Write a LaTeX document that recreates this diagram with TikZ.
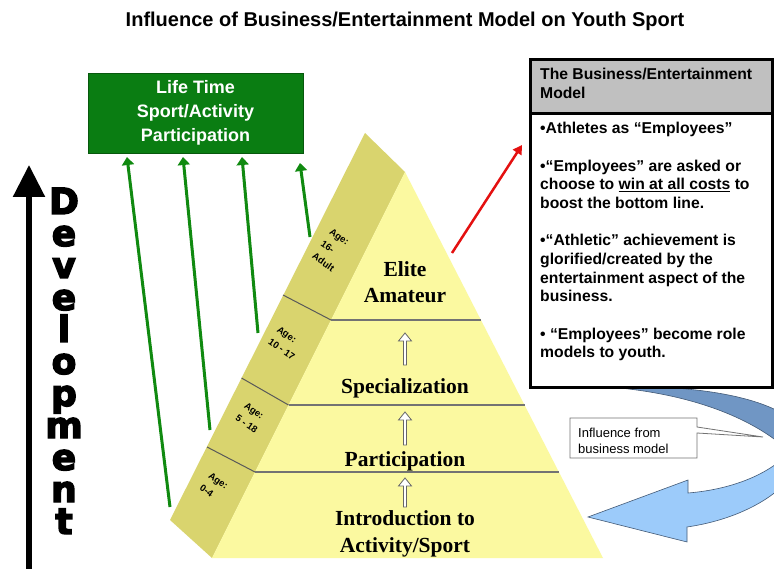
\documentclass[tikz,border=0pt]{standalone}
\usepackage{fontspec}
\setmainfont{Liberation Sans}
\newfontfamily\serifbold{Liberation Serif}
\newfontfamily\heavyfont{DejaVu Sans}[BoldFeatures={FakeBold=4}]
\usetikzlibrary{arrows.meta}
\definecolor{faceY}{HTML}{FBF9A0}
\definecolor{sideY}{HTML}{D9D46E}
\definecolor{boxG}{HTML}{0A7D12}
\definecolor{arrG}{HTML}{108A10}
\definecolor{hdrG}{HTML}{C0C0C0}
\definecolor{blueD}{HTML}{7096C4}
\definecolor{blueL}{HTML}{9CCBFA}
\definecolor{redA}{HTML}{E41010}
\begin{document}
\begin{tikzpicture}[x=1pt,y=-1pt,
  pyrtext/.style={font=\serifbold\bfseries\fontsize{21.5}{26}\selectfont, anchor=base, inner sep=0},
  agelbl/.style={font=\bfseries\fontsize{9.5}{15}\selectfont, rotate=-35, align=left, inner sep=0},
  greenarrow/.style={draw=arrG, line width=3pt, -{Triangle[width=12pt,length=8pt]}},
  levelline/.style={draw=black!55, line width=1.2pt},
  sideline/.style={draw=black!65, line width=1pt},
  hollowup/.style={fill=white, draw=black!60, line width=0.8pt},
  devl/.style={font=\heavyfont\bfseries\fontsize{36}{36}\selectfont, anchor=base, inner sep=0},
  boxtext/.style={font=\bfseries\fontsize{15.7}{18.7}\selectfont, align=left, anchor=base west, inner sep=0}
]
\useasboundingbox (0,0) rectangle (774,569);
\clip (0,0) rectangle (774,569);
\fill[white] (0,0) rectangle (774,569);

% title
\node[font=\bfseries\fontsize{20}{24}\selectfont, anchor=base, inner sep=0] (title) at (405,27) {Influence of Business/Entertainment Model on Youth Sport};

% dark (back) part of the blue curved arrow
\fill[blueD, draw=blueD!60!black, line width=0.6pt] (615,386) .. controls (690,386) and (755,394) .. (790,418) -- (790,452) .. controls (760,424) and (705,396) .. (615,387.5) -- cycle;

% pyramid
\fill[sideY] (365,133) -- (405,172) -- (212,558) -- (170,520) -- cycle;
\fill[faceY] (405,172) -- (603,558) -- (212,558) -- cycle;
\draw[sideline] (331,320) -- (283,295);
\draw[sideline] (288.5,405) -- (241.5,378);
\draw[sideline] (255,472) -- (207,447);
\draw[levelline] (331,320) -- (481,320);
\draw[levelline] (288.5,405) -- (524.5,405);
\draw[levelline] (255,472) -- (559,472);

% hollow arrows between levels
\foreach \yb/\yt in {365/333, 445/412, 507/478}
  \filldraw[hollowup] (403.5,\yb) -- (403.5,\yt+8) -- (398.5,\yt+8) -- (405,\yt) -- (411.5,\yt+8) -- (406.5,\yt+8) -- (406.5,\yb) -- cycle;

% level texts
\node[pyrtext] (elite) at (405,277) {Elite};
\node[pyrtext] (amateur) at (405,303) {Amateur};
\node[pyrtext] (spec) at (405,393) {Specialization};
\node[pyrtext] (part) at (405,466) {Participation};
\node[pyrtext] (intro) at (405,525) {Introduction to};
\node[pyrtext] (actsport) at (405,552) {Activity/Sport};

% age labels
\node[agelbl] (age1) at (332,250) {Age:\\16-\\Adult};
\node[agelbl] (age2) at (286,343) {Age:\\10 - 17};
\node[agelbl] (age3) at (251,418) {Age:\\5 - 18};
\node[agelbl] (age4) at (214,487) {Age:\\0-4};

% light (front) part of blue curved arrow
\fill[blueL, draw=blueD!60!black, line width=0.6pt] (790,452) .. controls (765,478) and (725,490) .. (688,493) -- (688,480) -- (588,517) -- (687,542) -- (687,527) .. controls (735,520) and (772,500) .. (790,478) -- cycle;

% life time box
\node[draw=boxG!70!black, fill=boxG, line width=0.8pt, minimum width=215pt, minimum height=80pt, inner sep=0, text=white, align=center, font=\bfseries\fontsize{18}{24}\selectfont] (life) at (195.5,113) {Life Time\\Sport/Activity\\Participation};

% green arrows
\coordinate (g1s) at (170,507); \coordinate (g1e) at (127,157);
\coordinate (g2s) at (210,430); \coordinate (g2e) at (183,157);
\coordinate (g3s) at (258,333); \coordinate (g3e) at (242,157);
\coordinate (g4s) at (310,237); \coordinate (g4e) at (300,163);
\draw[greenarrow] (g1s) -- (g1e);
\draw[greenarrow] (g2s) -- (g2e);
\draw[greenarrow] (g3s) -- (g3e);
\draw[greenarrow] (g4s) -- (g4e);

% red arrow
\coordinate (r1) at (452,253); \coordinate (r2) at (522,145);
\draw[draw=redA, line width=2.5pt, -{Triangle[width=10pt,length=9pt]}] (r1) -- (r2);

% business model box
\node[draw, line width=2.8pt, fill=white, minimum width=242pt, minimum height=328pt, inner sep=0, anchor=north west] (bizbox) at (529,58) {};
\node[draw, line width=2.8pt, fill=hdrG, minimum width=242pt, minimum height=54pt, inner sep=0, anchor=north west] (bizhdr) at (529,58) {};
\node[boxtext] (hdrtext) at (540,98.5) {The Business/Entertainment\\Model};
\node[boxtext] (bodytext) at (540,358) {\textbullet Athletes as “Employees”\\[18.7pt]
\textbullet “Employees” are asked or\\
choose to \underline{win at all costs} to\\
boost the bottom line.\\[18.7pt]
\textbullet “Athletic” achievement is\\
glorified/created by the\\
entertainment aspect of the\\
business.\\[18.7pt]
\textbullet{} “Employees” become role\\
models to youth.};

% callout
\filldraw[fill=white, draw=black!55, line width=0.8pt] (570,418) -- (697,418) -- (697,427) -- (763,437) -- (697,433) -- (697,458) -- (570,458) -- cycle;
\node[font=\fontsize{13}{16}\selectfont, align=left, anchor=base west, inner sep=0] (callout) at (578,453) {Influence from\\business model};

% development arrow
\coordinate (devbot) at (29,580);
\coordinate (devtop) at (29,165);
\draw[line width=5.5pt, -{Triangle[width=31pt,length=32pt]}] (devbot) -- (devtop);
\foreach \l [count=\i from 0] in {D,e,v,e,l,o,p,m,e,n,t}
  \node[devl] (dev\i) at (64,214+32*\i) {\l};
\end{tikzpicture}
\end{document}
